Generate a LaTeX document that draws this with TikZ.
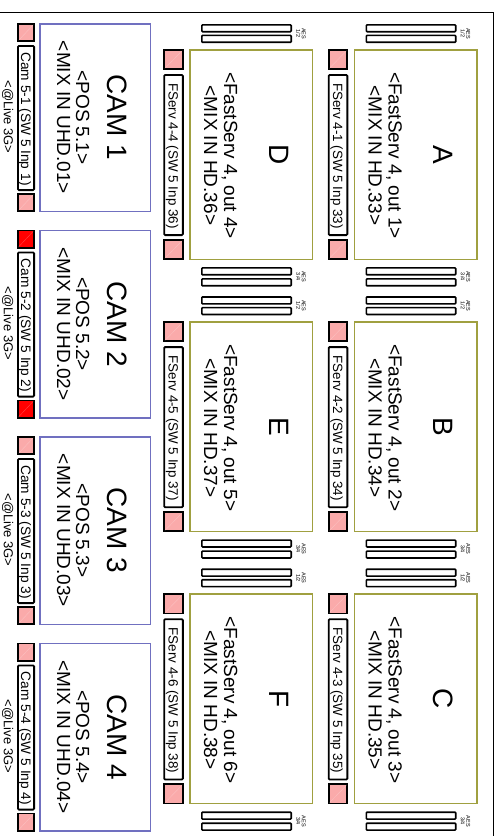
\documentclass[tikz,border=0pt]{standalone}
\usepackage{fontspec}
\setmainfont{Liberation Sans}
\usetikzlibrary{calc}
\definecolor{olivec}{RGB}{160,160,64}
\definecolor{bluec}{RGB}{112,112,192}
\definecolor{pinkc}{RGB}{250,170,170}
\definecolor{redc}{RGB}{255,0,0}
\newcommand\fbig{\fontsize{28}{30}\selectfont}
\newcommand\fmid{\fontsize{19}{20}\selectfont}
\newcommand\flab{\fontsize{13.4}{15}\selectfont}
\newcommand\fcamlab{\fontsize{13.7}{15}\selectfont}
\newcommand\flive{\fontsize{13}{15}\selectfont}
\newcommand\faes{\fontsize{5.5}{5.6}\selectfont}
\begin{document}
\begin{tikzpicture}[x=1pt,y=-1pt,
  bigbox/.style={draw=olivec,line width=1.5pt,fill=white,inner sep=0pt,outer sep=0pt,minimum width=122.5pt,minimum height=209.5pt},
  cambox/.style={draw=bluec,line width=1.5pt,fill=white,inner sep=0pt,outer sep=0pt,minimum width=110.5pt,minimum height=187.5pt},
  sqbox/.style={draw=black,line width=1.8pt,inner sep=0pt,outer sep=0pt},
  lblbox/.style={draw=black,line width=1.8pt,fill=white,inner sep=0pt,outer sep=0pt,rounded corners=1pt},
  aesbar/.style={draw=black,line width=1.6pt,fill=white,inner sep=0pt,outer sep=0pt,rounded corners=0.8pt,minimum width=89.4pt,minimum height=6.9pt},
  rtxt/.style={rotate=-90,anchor=base,inner sep=0pt},
  aestxt/.style={rotate=-90,anchor=center,inner sep=0pt,align=center,font=\faes},
  diag/.style={white,opacity=0.3,line width=0.3pt,shorten >=1.2pt,shorten <=1.2pt}
]
\useasboundingbox (0,0) rectangle (497,836);
\draw[line width=1.8pt] (0,12.5) -- (493.5,12.5) -- (493.5,836);

% camera column
\foreach \k/\fc in {1/pinkc,2/redc,3/pinkc,4/pinkc}{
  \pgfmathsetmacro\T{23+206.5*(\k-1)}
  \node[cambox] (cam\k) at (95,{\T+94.5}) {};
  \node[rtxt,font=\fbig] (camname\k) at (107,{\T+94.5}) {CAM \k};
  \node[rtxt,font=\fmid] (campos\k) at (76,{\T+94.5}) {<POS 5.\k>};
  \node[rtxt,font=\fmid] (cammix\k) at (57,{\T+94.5}) {<MIX IN UHD.0\k>};
  \node[sqbox,fill=\fc,minimum width=16.2pt,minimum height=17.2pt] (camsqa\k) at (26,{\T+9.5}) {};
  \draw[diag] (camsqa\k.south west) -- (camsqa\k.north east);
  \node[sqbox,fill=\fc,minimum width=16.2pt,minimum height=17.2pt] (camsqb\k) at (26,{\T+179.5}) {};
  \draw[diag] (camsqb\k.south west) -- (camsqb\k.north east);
  \node[lblbox,minimum width=16.2pt,minimum height=144.2pt] (camlbl\k) at (26,{\T+95}) {};
  \node[rtxt,font=\fcamlab] (camlbltxt\k) at (21.2,{\T+96}) {Cam 5-\k{} (SW 5 Inp \k)};
  \node[rtxt,font=\flive] (live\k) at (4,{\T+94}) {<@Live 3G>};
}

% FastServ boxes
\foreach \dx/\r/\L/\n/\hd in {164.5/1/A/1/33,164.5/2/B/2/34,164.5/3/C/3/35,0/1/D/4/36,0/2/E/5/37,0/3/F/6/38}{
  \pgfmathsetmacro\R{49+272.2*(\r-1)}
  \pgfmathsetmacro\bx{189+\dx}
  \node[bigbox] (box\L) at ({\bx+62},{\R+105.5}) {};
  \node[rtxt,font=\fbig] (let\L) at ({\bx+80},{\R+105.5}) {\L};
  \node[rtxt,font=\fmid] (fst\L) at ({\bx+35},{\R+106.5}) {<FastServ 4, out \n>};
  \node[rtxt,font=\fmid] (hd\L) at ({\bx+15},{\R+106.5}) {<MIX IN HD.\hd>};
  \node[sqbox,fill=pinkc,minimum width=18.7pt,minimum height=19.2pt] (fsqa\L) at ({\dx+173.5},{\R+10.5}) {};
  \draw[diag] (fsqa\L.south west) -- (fsqa\L.north east);
  \node[sqbox,fill=pinkc,minimum width=18.7pt,minimum height=19.2pt] (fsqb\L) at ({\dx+173.5},{\R+200.5}) {};
  \draw[diag] (fsqb\L.south west) -- (fsqb\L.north east);
  \node[lblbox,minimum width=18.7pt,minimum height=160.2pt] (flbl\L) at ({\dx+173.5},{\R+106}) {};
  \node[rtxt,font=\flab] (flbltxt\L) at ({\dx+168.7},{\R+107}) {FServ 4-\n{} (SW 5 Inp \hd)};
  \node[aesbar] (bara\L) at ({\dx+246.5},{\R-20.75}) {};
  \node[aesbar] (barb\L) at ({\dx+246.5},{\R-10.2}) {};
  \node[aesbar] (barc\L) at ({\dx+246.5},{\R+222.3}) {};
  \node[aesbar] (bard\L) at ({\dx+246.5},{\R+233.3}) {};
  \node[aestxt] (aesa\L) at ({\dx+301},{\R-15.5}) {AES\\1/2};
  \node[aestxt] (aesb\L) at ({\dx+301},{\R+227.8}) {AES\\3/4};
}
\end{tikzpicture}
\end{document}
